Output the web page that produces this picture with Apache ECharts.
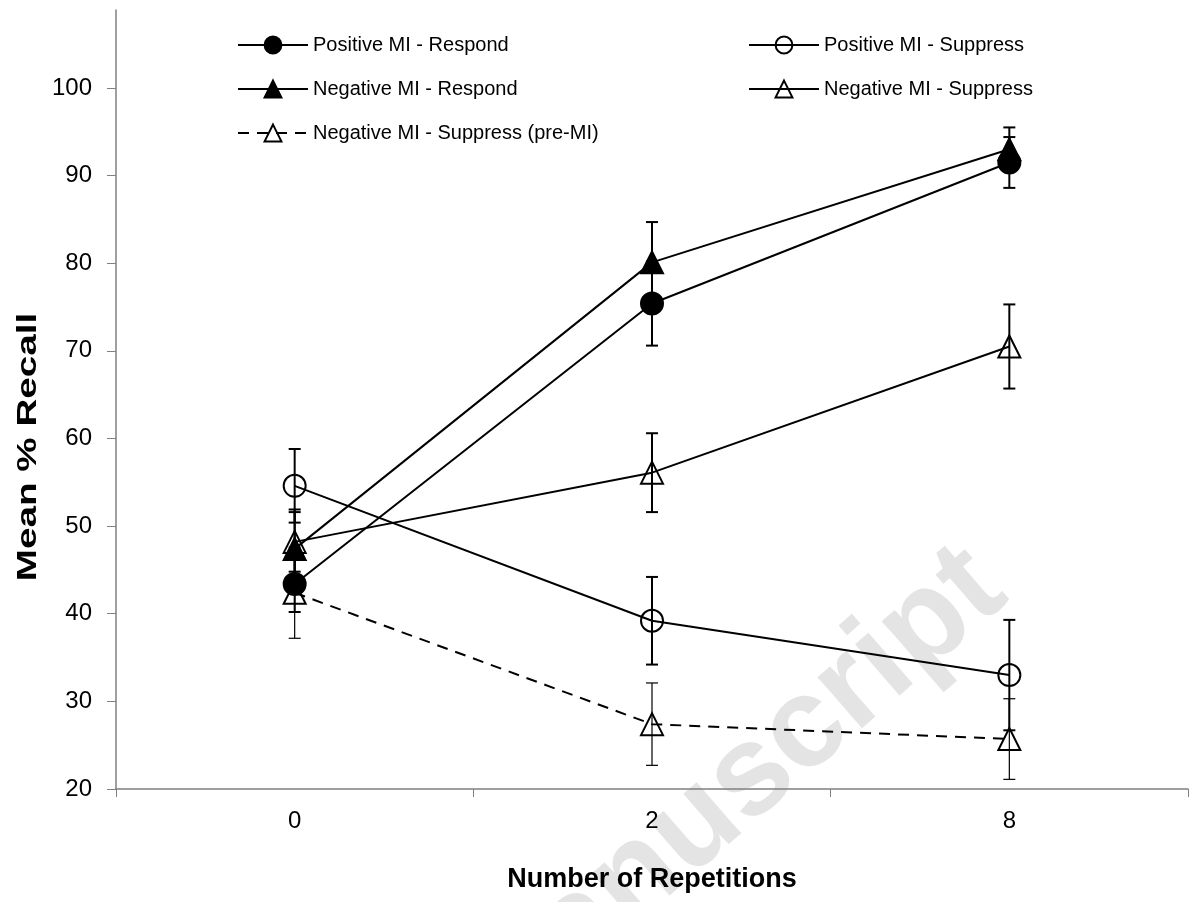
<!DOCTYPE html>
<html>
<head>
<meta charset="utf-8">
<script src="https://cdn.jsdelivr.net/npm/echarts@6/dist/echarts.min.js"></script>
<style>html,body{margin:0;padding:0;background:#fff}#c{width:1193px;height:902px}</style>
</head>
<body>
<div id="c"></div>
<script>
const categories = ['0', '2', '8'];
const yTicks = [20, 30, 40, 50, 60, 70, 80, 90, 100];

const posRespond = [43.4, 75.4, 91.5];
const posRespondErr = [3.2, 4.8, 2.9];
const posSuppress = [54.6, 39.2, 33.0];
const posSuppressErr = [4.2, 5.0, 6.3];
const negRespond = [47.4, 80.1, 93.0];
const negRespondErr = [4.5, 4.6, 2.5];
const negSuppress = [48.2, 56.1, 70.5];
const negSuppressErr = [3.4, 4.5, 4.8];
const negSuppressPre = [42.4, 27.4, 25.7];
const negSuppressPreErr = [5.2, 4.7, 4.6];

const FONT = "'Liberation Sans', Arial, sans-serif";

function errSeries(vals, errs, lw, z) {
  return {
    type: 'custom',
    silent: true,
    z: z,
    data: vals.map((v, i) => [i, v - errs[i], v + errs[i]]),
    renderItem: function (params, api) {
      const x = api.value(0);
      const lo = api.coord([x, api.value(1)]);
      const hi = api.coord([x, api.value(2)]);
      const hw = 6;
      const st = { stroke: '#000', lineWidth: lw };
      return {
        type: 'group',
        children: [
          { type: 'line', shape: { x1: lo[0], y1: lo[1], x2: hi[0], y2: hi[1] }, style: st },
          { type: 'line', shape: { x1: lo[0] - hw, y1: lo[1], x2: lo[0] + hw, y2: lo[1] }, style: st },
          { type: 'line', shape: { x1: hi[0] - hw, y1: hi[1], x2: hi[0] + hw, y2: hi[1] }, style: st }
        ]
      };
    }
  };
}

function lineSeries(name, vals, symbol, filled, dashed) {
  return {
    type: 'line',
    name: name,
    data: vals,
    symbol: symbol,
    symbolSize: 22,
    z: 5,
    lineStyle: { color: '#000', width: 2, type: dashed ? [11, 8] : 'solid' },
    itemStyle: {
      color: filled ? '#000' : 'rgba(0,0,0,0)',
      borderColor: '#000',
      borderWidth: 2
    },
    emphasis: { disabled: true }
  };
}

const chart = echarts.init(document.getElementById('c'), null, { renderer: 'canvas' });

const legendText = { fontSize: 20, color: '#000', fontFamily: FONT };

chart.setOption({
  animation: false,
  backgroundColor: '#fff',
  graphic: [
    {
      type: 'text',
      z: -10,
      silent: true,
      x: 730, y: 796,
      rotation: 41 * Math.PI / 180,
      style: {
        text: 'Manuscript',
        fontSize: 128,
        fontWeight: 'bold',
        fontFamily: FONT,
        fill: '#e4e4e4',
        textAlign: 'center',
        textVerticalAlign: 'middle'
      }
    },
    {
      type: 'text',
      silent: true,
      x: 28, y: 447,
      rotation: Math.PI / 2,
      scaleX: 1.38,
      style: {
        text: 'Mean % Recall',
        fontSize: 28,
        fontWeight: 'bold',
        fontFamily: FONT,
        fill: '#000',
        textAlign: 'center',
        textVerticalAlign: 'middle'
      }
    }
  ],
  legend: [
    {
      left: 237, top: 35, orient: 'vertical', padding: 0,
      itemWidth: 70, itemHeight: 21, itemGap: 24,
      textStyle: legendText,
      data: ['Positive MI - Respond', 'Negative MI - Respond', 'Negative MI - Suppress (pre-MI)']
    },
    {
      left: 748, top: 35, orient: 'vertical', padding: 0,
      itemWidth: 70, itemHeight: 21, itemGap: 24,
      textStyle: legendText,
      data: ['Positive MI - Suppress', 'Negative MI - Suppress']
    }
  ],
  grid: { left: 116, right: 5, top: 10, bottom: 113, containLabel: false },
  xAxis: {
    type: 'category',
    data: categories,
    boundaryGap: true,
    name: 'Number of Repetitions',
    nameLocation: 'middle',
    nameGap: 77,
    nameTextStyle: { fontSize: 27, fontWeight: 'bold', color: '#000', fontFamily: FONT },
    axisLine: { lineStyle: { color: '#808080', width: 1.5 } },
    axisTick: { show: true, length: 8, lineStyle: { color: '#808080', width: 1 } },
    axisLabel: { fontSize: 24, color: '#000', margin: 20, fontFamily: FONT },
    splitLine: { show: false }
  },
  yAxis: {
    type: 'value',
    min: 20,
    max: 108.9,
    interval: 10,
    axisLine: { show: true, lineStyle: { color: '#808080', width: 1.5 } },
    axisTick: { show: true, length: 9, customValues: yTicks, lineStyle: { color: '#808080', width: 1 } },
    axisLabel: { fontSize: 24, color: '#000', margin: 24, fontFamily: FONT, customValues: yTicks },
    splitLine: { show: false }
  },
  series: [
    errSeries(negSuppressPre, negSuppressPreErr, 1.2, 3),
    errSeries(posRespond, posRespondErr, 2, 3),
    errSeries(posSuppress, posSuppressErr, 2, 3),
    errSeries(negRespond, negRespondErr, 2, 3),
    errSeries(negSuppress, negSuppressErr, 2, 3),
    lineSeries('Negative MI - Suppress (pre-MI)', negSuppressPre, 'triangle', false, true),
    lineSeries('Positive MI - Suppress', posSuppress, 'circle', false, false),
    lineSeries('Negative MI - Suppress', negSuppress, 'triangle', false, false),
    lineSeries('Positive MI - Respond', posRespond, 'circle', true, false),
    lineSeries('Negative MI - Respond', negRespond, 'triangle', true, false)
  ]
});
</script>
</body>
</html>
